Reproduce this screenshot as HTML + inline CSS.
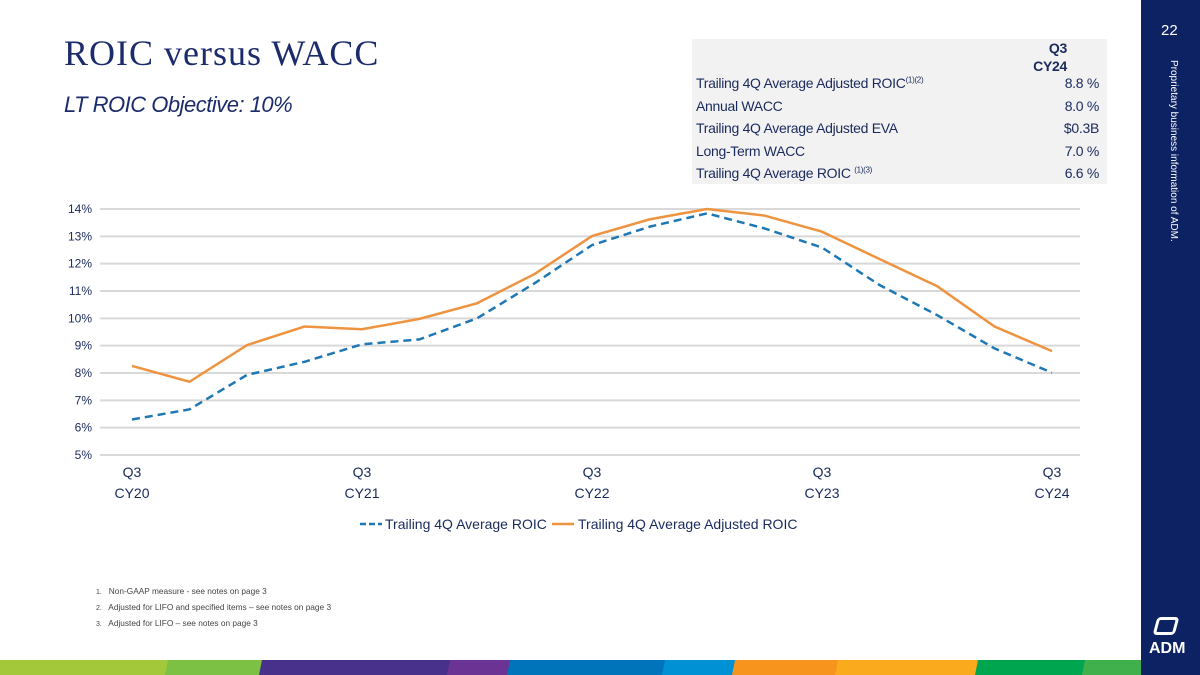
<!DOCTYPE html>
<html><head><meta charset="utf-8"><style>
body{margin:0;width:1200px;height:675px;position:relative;overflow:hidden;background:#fff;font-family:"Liberation Sans",sans-serif;color:#1a2a5c}
.abs{position:absolute}
#title{left:64px;top:32px;font-family:"Liberation Serif",serif;font-size:36px;color:#1c2b6b;letter-spacing:1px}
#sub{left:64px;top:92px;font-style:italic;font-size:22px;color:#1c2b6b;letter-spacing:-0.5px}
#tbl{left:692px;top:39px;width:415px;height:145px;background:#f2f2f2;font-size:14px;color:#1a2a5c;letter-spacing:-0.3px}
.row{position:absolute;left:0;width:415px;height:22px}
.row span.l{position:absolute;left:4px}
.row span.r{position:absolute;right:8px}
sup{font-size:8px}
#side{left:1141px;top:0;width:59px;height:675px;background:#0d2262}
.fn{left:96px;font-size:8.3px;color:#444}
</style></head><body>
<div class="abs" id="title">ROIC versus WACC</div>
<div class="abs" id="sub">LT ROIC Objective: 10%</div>
<div class="abs" id="tbl">
 <div class="row" style="top:0;text-align:right;font-weight:bold;width:375px;line-height:18px">Q3<br>CY24</div>
 <div class="row" style="top:36px"><span class="l">Trailing 4Q Average Adjusted ROIC<sup>(1)(2)</sup></span><span class="r">8.8 %</span></div>
 <div class="row" style="top:59px"><span class="l">Annual WACC</span><span class="r">8.0 %</span></div>
 <div class="row" style="top:81px"><span class="l">Trailing 4Q Average Adjusted EVA</span><span class="r">$0.3B</span></div>
 <div class="row" style="top:104px"><span class="l">Long-Term WACC</span><span class="r">7.0 %</span></div>
 <div class="row" style="top:126px"><span class="l">Trailing 4Q Average ROIC <sup>(1)(3)</sup></span><span class="r">6.6 %</span></div>
</div>
<div class="abs" id="side">
 <div class="abs" style="left:20px;top:22px;color:#fff;font-size:15px">22</div>
 <div class="abs" style="left:38px;top:60px;color:#fff;font-size:10px;white-space:nowrap;transform-origin:0 0;transform:rotate(90deg)">Proprietary business information of ADM.</div>
 <div class="abs" style="left:8px;top:640px;color:#fff;font-size:16px;font-weight:bold">ADM</div>
 <div class="abs" style="left:14px;top:617px;width:22px;height:18px;border:3px solid #fff;border-radius:4px;transform:skewX(-15deg);box-sizing:border-box"></div>
</div>
<svg class="abs" style="left:0;top:0" width="1141" height="675" id="chart"></svg>
<div class="abs fn" style="top:586px"><span style="font-size:7px">1.</span>&nbsp;&nbsp; Non-GAAP measure - see notes on page 3</div>
<div class="abs fn" style="top:602px"><span style="font-size:7px">2.</span>&nbsp;&nbsp; Adjusted for LIFO and specified items – see notes on page 3</div>
<div class="abs fn" style="top:618px"><span style="font-size:7px">3.</span>&nbsp;&nbsp; Adjusted for LIFO – see notes on page 3</div>
<script>
const yTicks=[5,6,7,8,9,10,11,12,13,14];
const xLabels=[["Q3","CY20"],["Q3","CY21"],["Q3","CY22"],["Q3","CY23"],["Q3","CY24"]];
const roic=[6.30,6.67,7.93,8.41,9.05,9.23,10.0,11.28,12.68,13.35,13.84,13.29,12.59,11.22,10.12,8.90,8.01];
const adjRoic=[8.26,7.68,9.02,9.70,9.60,9.98,10.55,11.62,13.01,13.62,14.0,13.76,13.17,12.17,11.18,9.70,8.80];
const NS="http://www.w3.org/2000/svg";
const svg=document.getElementById('chart');
const y=v=>455-(v-5)*(455-209)/9;
const x=i=>132+i*(1052-132)/(roic.length-1);
function mk(t,a){const e=document.createElementNS(NS,t);for(const k in a)e.setAttribute(k,a[k]);svg.appendChild(e);return e;}
yTicks.forEach(v=>{
 const l=mk('line',{x1:100,x2:1080,y1:y(v),y2:y(v),stroke:'#d9d9d9','stroke-width':2});
 
 
 const t=mk('text',{x:92,y:y(v)+4,'text-anchor':'end','font-size':12,fill:'#1a2a5c','font-family':'Liberation Sans'});
 t.textContent=v+'%';
 
 
});
xLabels.forEach((lb,j)=>{
 const xi=x(j*4);
 lb.forEach((s,k)=>{const t=mk('text',{x:xi,y:477+k*21,'text-anchor':'middle','font-size':14,fill:'#1a2a5c','font-family':'Liberation Sans'});
 t.textContent=s;
 
 });
});
function series(d,c,dash,name){
 const p=mk('polyline',{points:d.map((v,i)=>x(i)+','+y(v)).join(' '),fill:'none',stroke:c,'stroke-width':2.5,'stroke-dasharray':dash});
 
 
}
series(adjRoic,'#ee9340','none','adjusted-roic-line');
series(roic,'#1f78b4','8 5','roic-line');
let l1=mk('line',{x1:360,x2:382,y1:524,y2:524,stroke:'#1f78b4','stroke-width':2.5,'stroke-dasharray':'6 3'});


let t1=mk('text',{x:385,y:529,'font-size':14,fill:'#1a2a5c','font-family':'Liberation Sans'});t1.textContent='Trailing 4Q Average ROIC';


let l2=mk('line',{x1:552,x2:574,y1:524,y2:524,stroke:'#ee9340','stroke-width':2.5});


let t2=mk('text',{x:578,y:529,'font-size':14,fill:'#1a2a5c','font-family':'Liberation Sans'});t2.textContent='Trailing 4Q Average Adjusted ROIC';


const stripes=[[0,168,'#a3c93a'],[168,262,'#7cc143'],[262,450,'#47318a'],[450,510,'#6b3494'],[510,665,'#0074bb'],[665,735,'#0091d5'],[735,838,'#f7941d'],[838,978,'#f9aa1d'],[978,1085,'#00a550'],[1085,1141,'#3fb04c']];
stripes.forEach(s=>{const p=mk('polygon',{points:`${s[0]},660 ${s[1]+3},660 ${s[1]},675 ${s[0]-3},675`,fill:s[2]});

});
</script>
</body></html>
